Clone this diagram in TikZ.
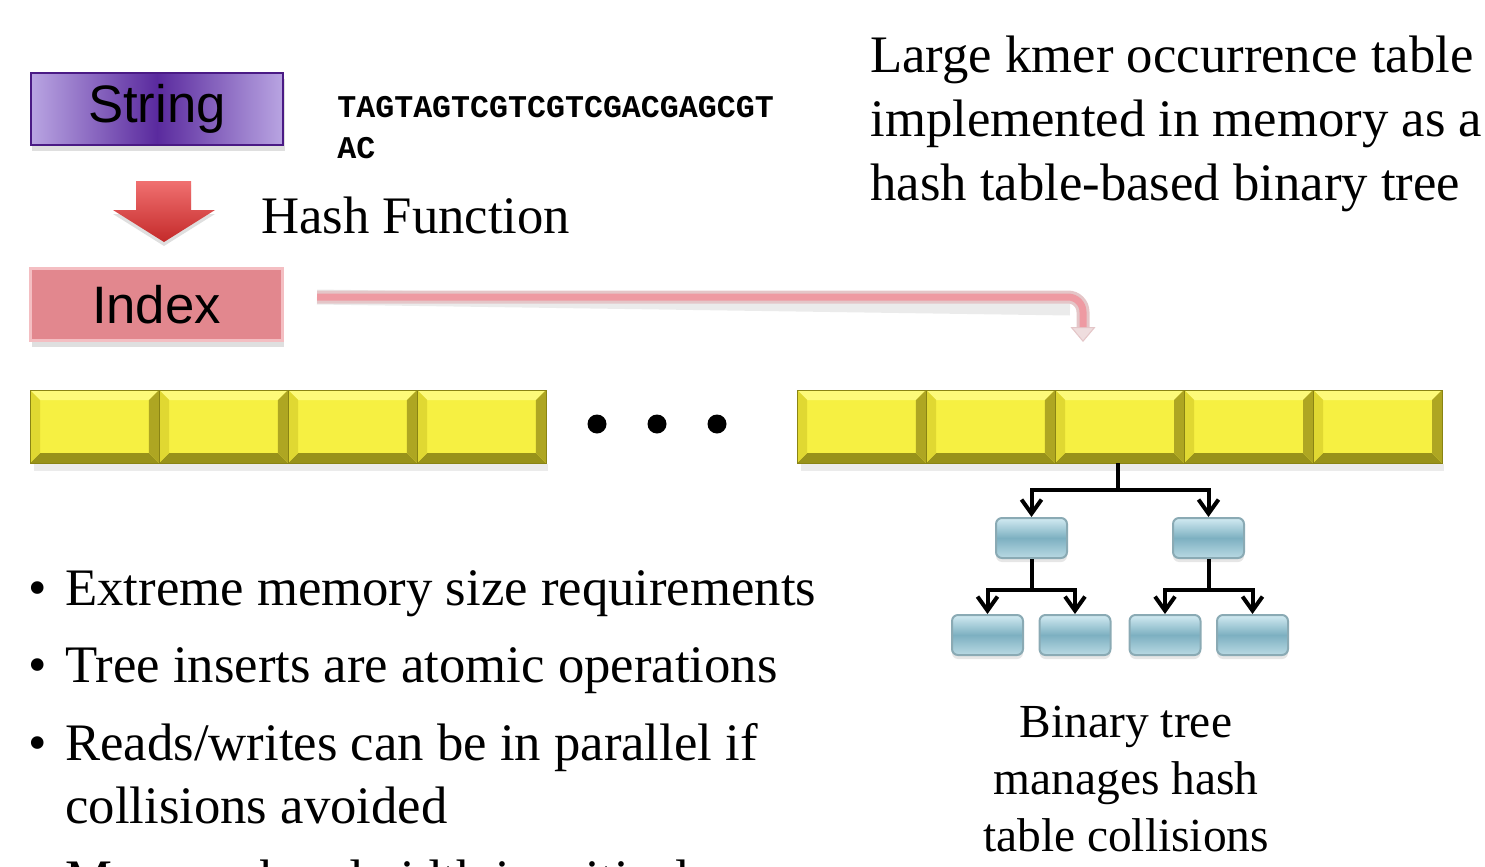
\documentclass[tikz,border=0pt]{standalone}
\usepackage{fontspec}
\setmainfont{Liberation Serif}
\newfontfamily\boxfont{Liberation Sans}
\newfontfamily\seqfont{Liberation Mono}
\usepackage{tikz}
\usetikzlibrary{arrows.meta,shadows,calc}

\definecolor{strdark}{HTML}{5A2A9E}
\definecolor{strlight}{HTML}{B9A5E2}
\definecolor{strline}{HTML}{4A1A85}
\definecolor{idxfill}{HTML}{E2878E}
\definecolor{idxline}{HTML}{F4BEC2}
\definecolor{hashtop}{HTML}{F07070}
\definecolor{hashbot}{HTML}{C42A2A}
\definecolor{linkpink}{HTML}{EE9AA2}
\definecolor{linkedge}{HTML}{E4C6C8}
\definecolor{celltop}{HTML}{FDFA7A}
\definecolor{cellface}{HTML}{F6F042}
\definecolor{cellleft}{HTML}{E0D832}
\definecolor{cellright}{HTML}{AEA622}
\definecolor{cellbot}{HTML}{98921A}
\definecolor{cellline}{HTML}{8A8414}
\definecolor{nodelight}{HTML}{D2EBF2}
\definecolor{nodedark}{HTML}{7DB0C1}
\definecolor{nodeline}{HTML}{8AAAB4}

\begin{document}
\begin{tikzpicture}[x=0.02cm,y=-0.02cm,
  box/.style={minimum width=5.05cm,minimum height=1.45cm,inner sep=0pt,
    font=\boxfont\fontsize{30}{36}\selectfont,
    drop shadow={opacity=.25,shadow xshift=.03cm,shadow yshift=-.12cm}},
  txt/.style={anchor=base west,inner sep=0pt,align=left,font=\fontsize{30}{36.2}\selectfont},
  cell/.style={minimum width=2.58cm,minimum height=1.46cm,inner sep=0pt,
    draw=cellline,line width=.4pt,fill=cellface,
    path picture={
      \coordinate (nw) at (path picture bounding box.north west);
      \coordinate (ne) at (path picture bounding box.north east);
      \coordinate (sw) at (path picture bounding box.south west);
      \coordinate (se) at (path picture bounding box.south east);
      \fill[celltop] (nw) -- (ne) -- ([shift={(-.2cm,-.2cm)}]ne) -- ([shift={(.2cm,-.2cm)}]nw) -- cycle;
      \fill[cellbot] (sw) -- (se) -- ([shift={(-.2cm,.2cm)}]se) -- ([shift={(.2cm,.2cm)}]sw) -- cycle;
      \fill[cellleft] (nw) -- (sw) -- ([shift={(.2cm,.2cm)}]sw) -- ([shift={(.2cm,-.2cm)}]nw) -- cycle;
      \fill[cellright] (ne) -- (se) -- ([shift={(-.2cm,.2cm)}]se) -- ([shift={(-.2cm,-.2cm)}]ne) -- cycle;
    }},
  treenode/.style={minimum width=1.42cm,minimum height=.8cm,inner sep=0pt,rounded corners=.12cm,
    draw=nodeline,line width=.04cm,top color=nodelight,bottom color=nodelight!70!nodedark,middle color=nodedark,
    drop shadow={opacity=.2,shadow xshift=0cm,shadow yshift=-.08cm}},
  branch/.style={line width=.08cm,-{Straight Barb[length=.28cm,width=.4cm]}},
  stem/.style={line width=.08cm}]
\useasboundingbox (0,0) rectangle (1485,866);
\clip (0,0) rectangle (1485,866);

% string -> hash -> index
\node[box,draw=strline,line width=.05cm,left color=strlight,right color=strlight,middle color=strdark] (str) at (157,109) {String};
\node[txt,font=\seqfont\bfseries\fontsize{18}{22.8}\selectfont] (seq) at (337,158) {TAGTAGTCGTCGTCGACGAGCGT\\AC};
\shade[top color=hashtop,bottom color=hashbot,drop shadow={opacity=.25,shadow xshift=0cm,shadow yshift=-.08cm}]
  (136,181) -- (191,181) -- (191,210) -- (215,210) -- (164,242) -- (113,210) -- (136,210) -- cycle;
\node[txt] (hf) at (261,233) {Hash Function};
\node[box,draw=idxline,line width=.05cm,fill=idxfill] (idx) at (156.5,304.5) {Index};

\node[txt] (note) at (870,200) {Large kmer occurrence table\\implemented in memory as a\\hash table-based binary tree};

% index link into the table
\coordinate (hs) at (317,297);
\coordinate (ht) at (1083,342);
\draw[black,opacity=.08,line width=.3cm,yshift=-.22cm] (hs) -- (1070,297);
\draw[linkedge,line width=.26cm,rounded corners=.3cm,
  -{Triangle[length=.3cm,width=.5cm,line width=.6pt,fill=linkedge!60!white]}] (hs) -| (ht);
\draw[linkpink,line width=.14cm,rounded corners=.3cm,shorten >=.3cm] (hs) -| (ht);

% table cells
\fill[black,opacity=.08] (34,464) rectangle (548,471);
\fill[black,opacity=.08] (801,464) rectangle (1444,471);
\foreach \i in {0,...,3}{\node[cell] (l\i) at ({94.5+129*\i},426.5) {};}
\foreach \i in {0,...,4}{\node[cell] (r\i) at ({861.5+129*\i},426.5) {};}
\foreach \x in {597,657,717}{\fill (\x,424) circle (.19cm);}

% binary tree under one bucket
\node[treenode] (t1) at (1031.5,538) {};
\node[treenode] (t2) at (1208.5,538) {};
\node[treenode] (t11) at (987.5,635) {};
\node[treenode] (t12) at (1075,635) {};
\node[treenode] (t21) at (1165,635) {};
\node[treenode] (t22) at (1252.5,635) {};
\coordinate (j0) at ($(r2.south)+(-2,27)$);
\coordinate (j1) at ($(t1.south)+(0,31)$);
\coordinate (j2) at ($(t2.south)+(0,31)$);
\draw[stem] (r2.south -| j0) -- (j0);
\draw[branch] (j0) -| (t1.north);
\draw[branch] (j0) -| (t2.north);
\draw[stem] (t1.south) -- (j1);
\draw[branch] (j1) -| (t11.north);
\draw[branch] (j1) -| (t12.north);
\draw[stem] (t2.south) -- (j2);
\draw[branch] (j2) -| (t21.north);
\draw[branch] (j2) -| (t22.north);
\node[anchor=base,inner sep=0pt,align=center,font=\fontsize{27}{32.4}\selectfont] (cap) at (1126,851)
  {Binary tree\\manages hash\\table collisions};

% bullet list
\foreach \n/\y in {1/605,2/682,3/760,4/896}{\node[anchor=base,inner sep=0pt,font=\fontsize{30}{36}\selectfont] (dot\n) at (38,\y) {\textbullet};}
\node[txt] (it1) at (65,605) {Extreme memory size requirements};
\node[txt] (it2) at (65,682) {Tree inserts are atomic operations};
\node[txt,font=\fontsize{30}{35.8}\selectfont] (it3) at (65,823) {Reads/writes can be in parallel if\\collisions avoided};
\node[txt] (it4) at (65,896) {Memory bandwidth is critical};
\end{tikzpicture}
\end{document}
